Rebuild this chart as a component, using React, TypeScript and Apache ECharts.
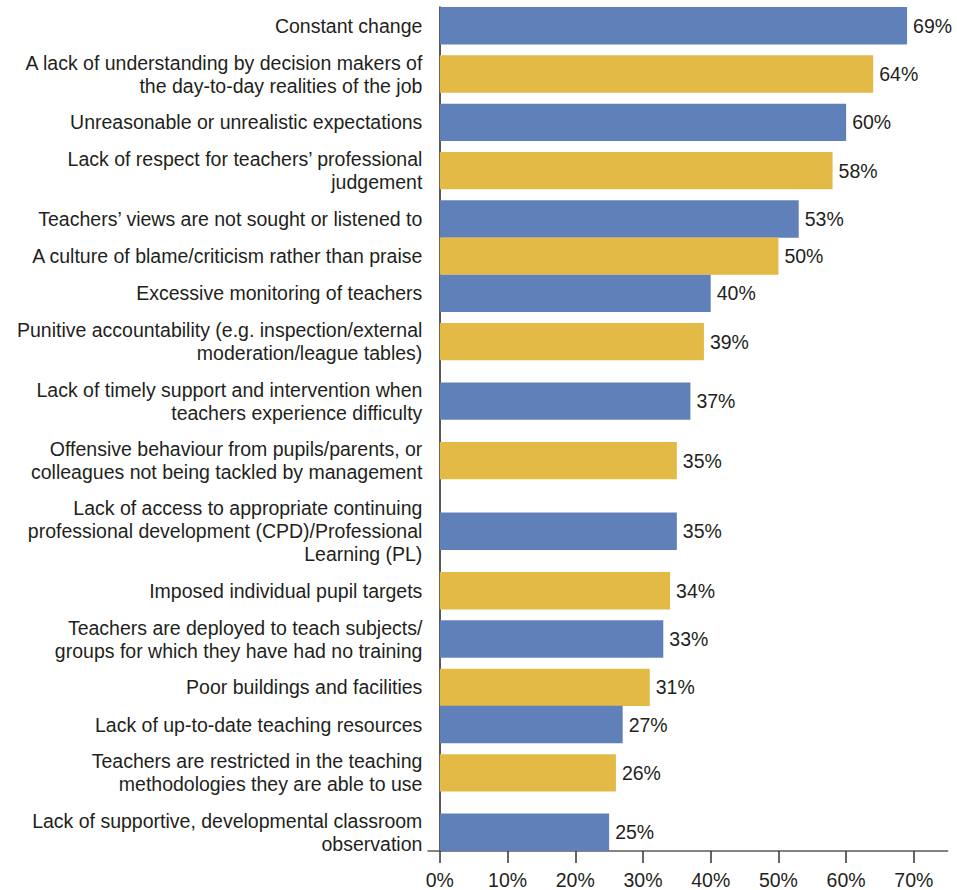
import React, { useEffect, useRef } from "react";
import * as echarts from "echarts";

const categories: string[] = [
  "Constant change",
  "A lack of understanding by decision makers of\nthe day-to-day realities of the job",
  "Unreasonable or unrealistic expectations",
  "Lack of respect for teachers\u2019 professional\njudgement",
  "Teachers\u2019 views are not sought or listened to",
  "A culture of blame/criticism rather than praise",
  "Excessive monitoring of teachers",
  "Punitive accountability (e.g. inspection/external\nmoderation/league tables)",
  "Lack of timely support and intervention when\nteachers experience difficulty",
  "Offensive behaviour from pupils/parents, or\ncolleagues not being tackled by management",
  "Lack of access to appropriate continuing\nprofessional development (CPD)/Professional\nLearning (PL)",
  "Imposed individual pupil targets",
  "Teachers are deployed to teach subjects/\ngroups for which they have had no training",
  "Poor buildings and facilities",
  "Lack of up-to-date teaching resources",
  "Teachers are restricted in the teaching\nmethodologies they are able to use",
  "Lack of supportive, developmental classroom\nobservation",
];

const values: number[] = [69, 64, 60, 58, 53, 50, 40, 39, 37, 35, 35, 34, 33, 31, 27, 26, 25];

const tickValues: number[] = [0, 10, 20, 30, 40, 50, 60, 70];

const BLUE = "#6080b9";
const YELLOW = "#e2ba45";
const TEXT = "#231f20";
const FONT = '"Liberation Sans", Arial, Helvetica, sans-serif';
const FS = 19.5;

export default function App() {
  const ref = useRef<HTMLDivElement>(null);

  useEffect(() => {
    if (!ref.current) return;
    const chart = echarts.init(ref.current, null, { renderer: "svg" });

    // layout: each category slot height depends on its label line count
    const SLOT_PAD = 14.9;
    const LINE_UNIT = 22.3;
    const BAR_H = 37.4;
    const slots = categories.map((c) => SLOT_PAD + LINE_UNIT * c.split("\n").length);
    const centers: number[] = [];
    let acc = 0;
    slots.forEach((s, i) => {
      if (i === 0) acc = s / 2;
      else acc += (slots[i - 1] + s) / 2;
      centers.push(acc);
    });
    const yMin = centers[0] - BAR_H / 2;
    const yMax = centers[centers.length - 1] + BAR_H / 2;

    const data = values.map((v, i) => [v, centers[i]]);

    chart.setOption({
      animation: false,
      grid: { left: 428, right: 9.3, top: 7, bottom: 37.7, containLabel: false },
      xAxis: {
        type: "value",
        min: -1.75,
        max: 75,
        axisLine: { show: true, onZero: false, lineStyle: { color: "#5b5b5b", width: 1.5 } },
        axisTick: {
          show: true,
          length: 12,
          customValues: tickValues,
          lineStyle: { color: "#333333", width: 1.5 },
        },
        axisLabel: {
          customValues: tickValues,
          formatter: (v: number) => `${v}%`,
          fontSize: FS,
          fontFamily: FONT,
          color: TEXT,
          margin: 19,
        },
        splitLine: { show: false },
      },
      yAxis: {
        type: "value",
        inverse: true,
        min: yMin,
        max: yMax,
        axisLine: {
          show: true,
          onZero: true,
          onZeroAxisIndex: 0,
          lineStyle: { color: TEXT, width: 1.5 },
        },
        axisTick: { show: false },
        axisLabel: { show: false },
        splitLine: { show: false },
      },
      series: [
        {
          type: "custom",
          clip: false,
          encode: { x: 0, y: 1 },
          data,
          renderItem: (params: any, api: any) => {
            const idx = params.dataIndex;
            const v = api.value(0);
            const c = api.value(1);
            const start = api.coord([0, c]);
            const end = api.coord([v, c]);
            const h = api.size([0, BAR_H])[1];
            return {
              type: "group",
              children: [
                {
                  type: "rect",
                  shape: { x: start[0], y: start[1] - h / 2, width: end[0] - start[0], height: h },
                  style: { fill: idx % 2 === 0 ? BLUE : YELLOW },
                },
                {
                  type: "text",
                  x: end[0] + 6,
                  y: end[1],
                  style: {
                    text: `${v}%`,
                    fill: TEXT,
                    fontSize: FS,
                    fontFamily: FONT,
                    align: "left",
                    verticalAlign: "middle",
                  },
                },
                {
                  type: "text",
                  x: start[0] - 17.5,
                  y: start[1],
                  style: {
                    text: categories[idx],
                    fill: TEXT,
                    fontSize: FS,
                    fontFamily: FONT,
                    align: "right",
                    verticalAlign: "middle",
                    lineHeight: 23,
                  },
                },
              ],
            };
          },
        },
      ],
    });

    return () => chart.dispose();
  }, []);

  return (
    <div
      ref={ref}
      style={{ position: "fixed", left: 0, top: 0, width: 957, height: 890, background: "#ffffff" }}
    />
  );
}
